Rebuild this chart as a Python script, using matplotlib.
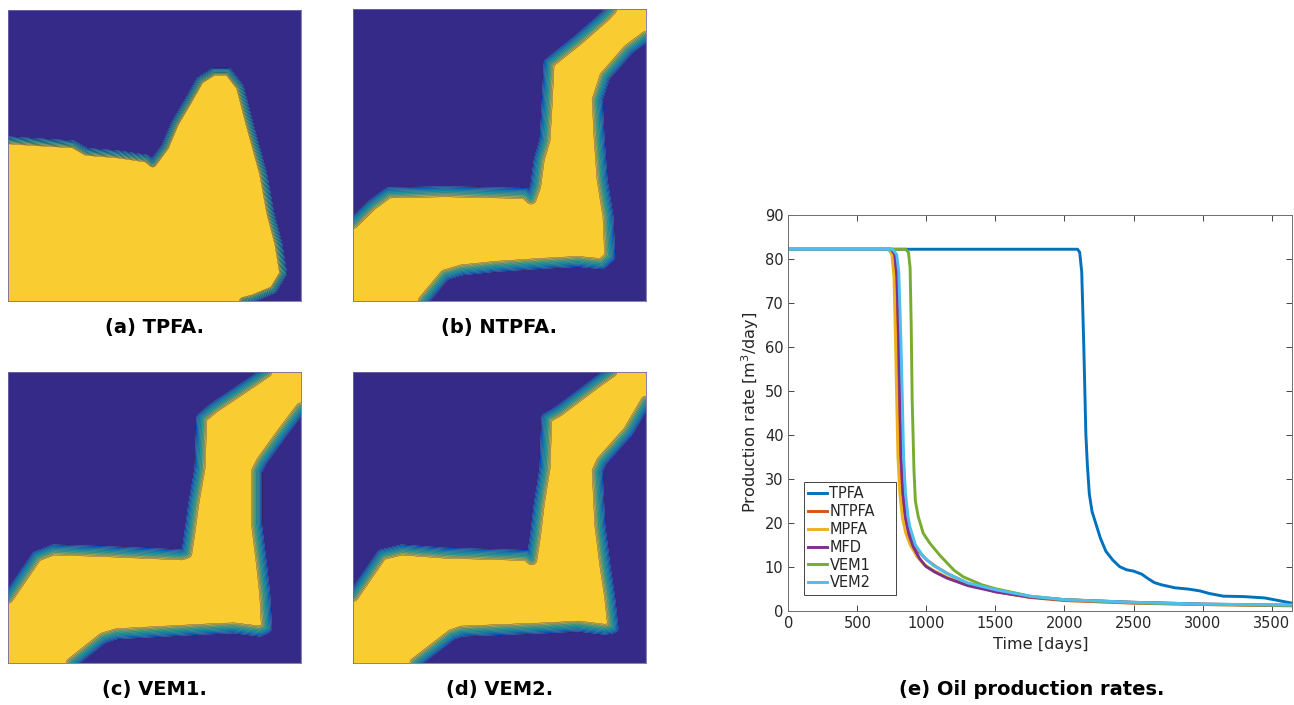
import numpy as np
import matplotlib
matplotlib.use('Agg')
import matplotlib.pyplot as plt
from matplotlib.path import Path
from matplotlib.colors import LinearSegmentedColormap

# ---------------- data: saturation fronts (normalised panel coords, y up) ----------------
tpfa_x = [0, 0.086, 0.223, 0.268, 0.371, 0.473, 0.494, 0.536, 0.570, 0.610, 0.655, 0.701,
          0.752, 0.792, 0.824, 0.871, 0.896, 0.923, 0.940, 0.906, 0.837, 0.803, 0]
tpfa_y = [0.553, 0.547, 0.539, 0.513, 0.505, 0.490, 0.473, 0.530, 0.611, 0.679, 0.759, 0.788,
          0.788, 0.736, 0.611, 0.439, 0.302, 0.198, 0.095, 0.038, 0.009, 0.0, 0]

ntpfa_x = [0, 0.064, 0.121, 0.314, 0.587, 0.608, 0.623, 0.635, 0.655, 0.661, 0.669, 0.769,
           0.860, 0.883, 1.0, 1.0, 0.940, 0.860, 0.834, 0.841, 0.851, 0.871, 0.877, 0.849,
           0.769, 0.655, 0.485, 0.371, 0.314, 0.240, 0]
ntpfa_y = [0.266, 0.329, 0.371, 0.375, 0.369, 0.350, 0.392, 0.483, 0.552, 0.655, 0.815, 0.895,
           0.975, 1.0, 1.0, 0.906, 0.861, 0.769, 0.689, 0.552, 0.415, 0.289, 0.152, 0.127,
           0.135, 0.129, 0.118, 0.106, 0.089, 0.0, 0]

vem1_x = [0, 0.098, 0.155, 0.314, 0.593, 0.610, 0.621, 0.633, 0.655, 0.661, 0.701, 0.837,
          0.883, 1.0, 1.0, 0.940, 0.866, 0.849, 0.849, 0.866, 0.877, 0.883, 0.860, 0.769,
          0.655, 0.371, 0.325, 0.217, 0]
vem1_y = [0.223, 0.367, 0.389, 0.384, 0.372, 0.378, 0.452, 0.544, 0.670, 0.842, 0.876, 0.968,
          1.0, 1.0, 0.876, 0.796, 0.693, 0.659, 0.475, 0.338, 0.235, 0.120, 0.109, 0.120,
          0.115, 0.100, 0.086, 0.0, 0]

vem2_x = [0, 0.098, 0.166, 0.314, 0.593, 0.610, 0.623, 0.635, 0.655, 0.661, 0.701, 0.837,
          0.883, 1.0, 1.0, 0.940, 0.849, 0.834, 0.843, 0.860, 0.877, 0.888, 0.860, 0.769,
          0.655, 0.371, 0.337, 0.212, 0]
vem2_y = [0.229, 0.372, 0.389, 0.378, 0.370, 0.355, 0.441, 0.544, 0.670, 0.842, 0.865, 0.968,
          1.0, 1.0, 0.899, 0.796, 0.693, 0.659, 0.475, 0.338, 0.223, 0.120, 0.115, 0.126,
          0.120, 0.109, 0.097, 0.0, 0]

panel_titles = ['(a) TPFA.', '(b) NTPFA.', '(c) VEM1.', '(d) VEM2.']

# ---------------- data: oil production rates ----------------
t_tpfa = [0, 2095, 2110, 2125, 2140, 2155, 2166, 2180, 2200, 2230, 2260, 2300, 2350, 2400,
          2450, 2500, 2560, 2600, 2650, 2700, 2800, 2900, 2980, 3050, 3150, 3300, 3450, 3550, 3650]
q_tpfa = [82.2, 82.2, 81.5, 77, 60, 40, 33, 26.5, 22.5, 19.5, 16.5, 13.5, 11.5, 10.0,
          9.3, 9.0, 8.3, 7.4, 6.4, 5.9, 5.2, 4.9, 4.5, 3.9, 3.3, 3.2, 2.9, 2.3, 1.7]

t_ntpfa = [0, 740, 765, 780, 792, 800, 810, 823, 845, 870, 900, 950, 1000, 1070, 1150,
           1300, 1500, 1750, 2000, 2500, 3000, 3650]
q_ntpfa = [82.2, 82.2, 81, 76, 62, 48, 35, 27, 21.5, 18, 15.8, 13.3, 11.6, 10, 8.5,
           6.2, 4.3, 3.0, 2.3, 1.7, 1.4, 1.1]

t_mpfa = [0, 725, 750, 765, 776, 785, 794, 807, 827, 852, 882, 932, 980, 1050, 1150,
          1300, 1500, 1750, 2000, 2500, 3000, 3650]
q_mpfa = [82.2, 82.2, 81, 76, 62, 48, 35, 27, 21, 17.5, 15, 12.3, 10.6, 9.2, 7.6,
          5.9, 4.4, 3.2, 2.5, 1.9, 1.5, 1.2]

t_mfd = [0, 745, 772, 787, 800, 808, 817, 830, 850, 874, 904, 950, 995, 1060, 1150,
         1300, 1500, 1750, 2000, 2500, 3000, 3650]
q_mfd = [82.2, 82.2, 81, 76, 62, 48, 35, 27, 21, 17.3, 14.6, 11.9, 10.1, 8.8, 7.4,
         5.7, 4.3, 3.1, 2.5, 1.9, 1.5, 1.2]

t_vem1 = [0, 850, 870, 882, 890, 897, 910, 920, 941, 977, 1026, 1100, 1200, 1267, 1400,
          1500, 1750, 2000, 2500, 3000, 3650]
q_vem1 = [82.2, 82.2, 81.5, 78, 65, 48, 32, 25, 21.4, 17.6, 15.3, 12.5, 9.2, 7.7, 5.9,
          5.0, 3.3, 2.5, 1.8, 1.4, 1.2]

t_vem2 = [0, 755, 785, 800, 815, 826, 835, 848, 866, 881, 920, 978, 1050, 1147, 1300,
          1509, 1750, 2000, 2500, 3000, 3650]
q_vem2 = [82.2, 82.2, 81, 77, 62, 48, 35, 27, 21.5, 19, 15, 12.3, 10.3, 8.5, 6.3,
          4.7, 3.3, 2.5, 1.9, 1.5, 1.3]

methods = ['TPFA', 'NTPFA', 'MPFA', 'MFD', 'VEM1', 'VEM2']
line_colors = ['#0072BD', '#D95319', '#EDB120', '#7E2F8E', '#77AC30', '#4DBEEE']

# ---------------- helpers ----------------
parula = LinearSegmentedColormap.from_list('parula_like', [
    (0.00, '#352A87'), (0.15, '#0363E1'), (0.30, '#1485D4'), (0.45, '#06A7C6'),
    (0.60, '#38B99E'), (0.70, '#92BF73'), (0.80, '#D9BA56'), (0.90, '#FCCE2E'),
    (1.00, '#F9FB0E')])


def front_field(xs, ys, w, n=360):
    gx, gy = np.meshgrid(np.linspace(0, 1, n), np.linspace(0, 1, n))
    pts = np.column_stack([gx.ravel(), gy.ravel()])
    poly = np.column_stack([xs, ys]).astype(float)
    # test slightly inset points so the border rows are classified correctly
    inside = Path(poly).contains_points(np.clip(pts, 2e-3, 1 - 2e-3))
    dist = np.full(len(pts), np.inf)

    def on_edge(p):
        return p[0] <= 0 or p[0] >= 1 or p[1] <= 0 or p[1] >= 1

    for p, q in zip(poly, np.roll(poly, -1, axis=0)):
        if on_edge(p) and on_edge(q) and (p[0] == q[0] or p[1] == q[1]):
            continue  # segment lies on domain boundary, no front there
        seg = q - p
        tt = np.clip(((pts - p) @ seg) / max(seg @ seg, 1e-12), 0, 1)
        proj = p + tt[:, None] * seg
        dist = np.minimum(dist, np.hypot(pts[:, 0] - proj[:, 0], pts[:, 1] - proj[:, 1]))
    sd = np.where(inside, dist, -dist)
    s = np.clip(0.5 + sd / (2 * w), 0, 1)
    return gx, gy, s.reshape(gx.shape)


levels = [-0.5, 0.05, 0.15, 0.25, 0.35, 0.45, 0.55, 0.65, 0.75, 0.85, 0.95, 1.5]
band_pos = [0.0, 0.14, 0.22, 0.32, 0.42, 0.50, 0.57, 0.64, 0.71, 0.80, 0.89]
band_colors = [parula(p) for p in band_pos]

# ---------------- figure ----------------
fig = plt.figure(figsize=(12.94, 7.05), dpi=100)

panel_rects = [[0.00618, 0.5730, 0.2264, 0.4128],
               [0.2728, 0.5730, 0.2264, 0.4142],
               [0.00618, 0.0596, 0.2264, 0.4128],
               [0.2728, 0.0596, 0.2264, 0.4128]]
fronts = [(tpfa_x, tpfa_y), (ntpfa_x, ntpfa_y), (vem1_x, vem1_y), (vem2_x, vem2_y)]
band_width = [0.014, 0.02, 0.02, 0.02]

for rect, (fx, fy), bw, title in zip(panel_rects, fronts, band_width, panel_titles):
    ax = fig.add_axes(rect)
    gx, gy, s = front_field(fx, fy, bw)
    ax.contourf(gx, gy, s, levels=levels, colors=band_colors, antialiased=True)
    ax.contour(gx, gy, s, levels=levels[1:-1], colors='k', linewidths=0.2)
    ax.set_xlim(0, 1)
    ax.set_ylim(0, 1)
    ax.set_xticks([])
    ax.set_yticks([])
    for sp in ax.spines.values():
        sp.set_color('#6f6aa8')
        sp.set_linewidth(0.6)
    cx = rect[0] + rect[2] / 2
    cy = rect[1] - 0.0375
    fig.text(cx, cy, title, ha='center', va='center', fontsize=14,
             fontweight='bold', family='DejaVu Sans')

# ---------------- production rate plot ----------------
ax = fig.add_axes([0.6092, 0.1338, 0.3895, 0.5613])
series = [(t_tpfa, q_tpfa), (t_ntpfa, q_ntpfa), (t_mpfa, q_mpfa),
          (t_mfd, q_mfd), (t_vem1, q_vem1), (t_vem2, q_vem2)]
for (tt, qq), name, col in zip(series, methods, line_colors):
    ax.plot(tt, qq, color=col, linewidth=2.1, label=name, solid_joinstyle='round')

ax.set_xlim(0, 3650)
ax.set_ylim(0, 90)
ax.set_xticks(np.arange(0, 3501, 500))
ax.set_yticks(np.arange(0, 91, 10))
ax.tick_params(direction='in', length=4, width=0.6, top=True, right=True,
               labelsize=10.5, colors='#262626')
for lab in ax.get_xticklabels() + ax.get_yticklabels():
    lab.set_family('DejaVu Sans')
for sp in ax.spines.values():
    sp.set_color('#6e6e6e')
    sp.set_linewidth(0.7)
ax.set_xlabel('Time [days]', fontsize=11.6, color='#262626', labelpad=5,
              family='DejaVu Sans')
ax.set_ylabel('Production rate [m$^3$/day]', fontsize=11.6, color='#262626',
              labelpad=3, family='DejaVu Sans')

leg = ax.legend(loc='lower left', bbox_to_anchor=(0.031, 0.04, 0.183, 0.3), mode='expand',
                prop={'family': 'DejaVu Sans', 'size': 10.5},
                handlelength=1.3, handletextpad=0.15, labelspacing=0.2,
                borderpad=0.3, borderaxespad=0, fancybox=False, framealpha=1)
leg.get_frame().set_edgecolor('#262626')
leg.get_frame().set_linewidth(0.6)
for txt in leg.get_texts():
    txt.set_color('#262626')

fig.text(0.7975, 0.0213, '(e) Oil production rates.', ha='center', va='center',
         fontsize=14, fontweight='bold', family='DejaVu Sans')

plt.savefig('out.png', dpi=100)
plt.close()
